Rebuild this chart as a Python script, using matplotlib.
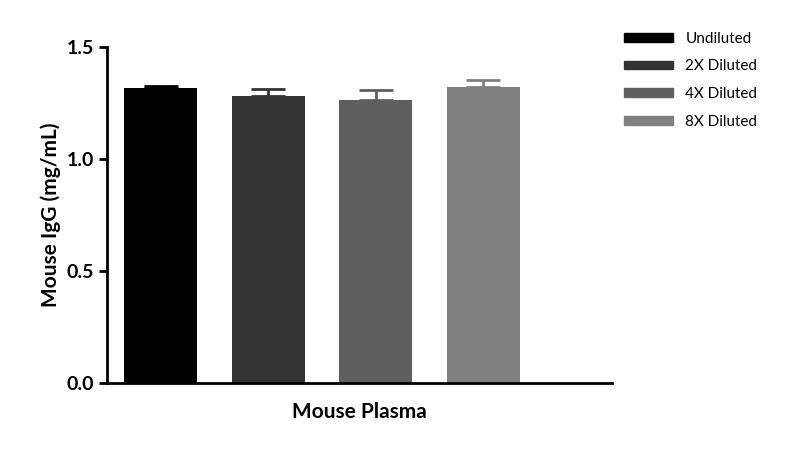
import numpy as np
import matplotlib.pyplot as plt
from matplotlib.patches import Patch

labels = ['Undiluted', '2X Diluted', '4X Diluted', '8X Diluted']
means = [1.317, 1.280, 1.265, 1.322]
errs = [0.010, 0.033, 0.046, 0.031]
colors = ['#000000', '#333333', '#5f5f5f', '#808080']

plt.rcParams['font.family'] = ['Lato', 'DejaVu Sans']
fig = plt.figure(figsize=(7.93, 4.5), dpi=100)
ax = fig.add_axes([0.135, 0.149, 0.637, 0.746])

x = np.arange(4)
ax.bar(x, means, width=0.68, color=colors, zorder=2)
for xi, m, e, c in zip(x, means, errs, colors):
    ax.errorbar(xi, m, yerr=[[0], [e]], fmt='none', ecolor=c,
                elinewidth=2, capsize=12, capthick=2, zorder=1)

ax.set_xlim(-0.5, 4.2)
ax.set_ylim(0, 1.5)
ax.set_yticks([0, 0.5, 1.0, 1.5])
ax.set_yticklabels(['0.0', '0.5', '1.0', '1.5'], fontsize=14, fontweight='bold')
ax.set_xticks([])
ax.set_xlabel('Mouse Plasma', fontsize=15, fontweight='bold', labelpad=14)
ax.set_ylabel('Mouse IgG (mg/mL)', fontsize=15, fontweight='bold')
for s in ['top', 'right']:
    ax.spines[s].set_visible(False)
for s in ['left', 'bottom']:
    ax.spines[s].set_linewidth(2)
ax.tick_params(axis='y', width=2, length=6)

handles = [Patch(color=c, label=l) for c, l in zip(colors, labels)]
fig.legend(handles=handles, loc='upper left', bbox_to_anchor=(0.77, 0.96),
           frameon=False, fontsize=11, handlelength=3.2, handleheight=0.5,
           labelspacing=0.9)

fig.savefig('out.png', dpi=100)
